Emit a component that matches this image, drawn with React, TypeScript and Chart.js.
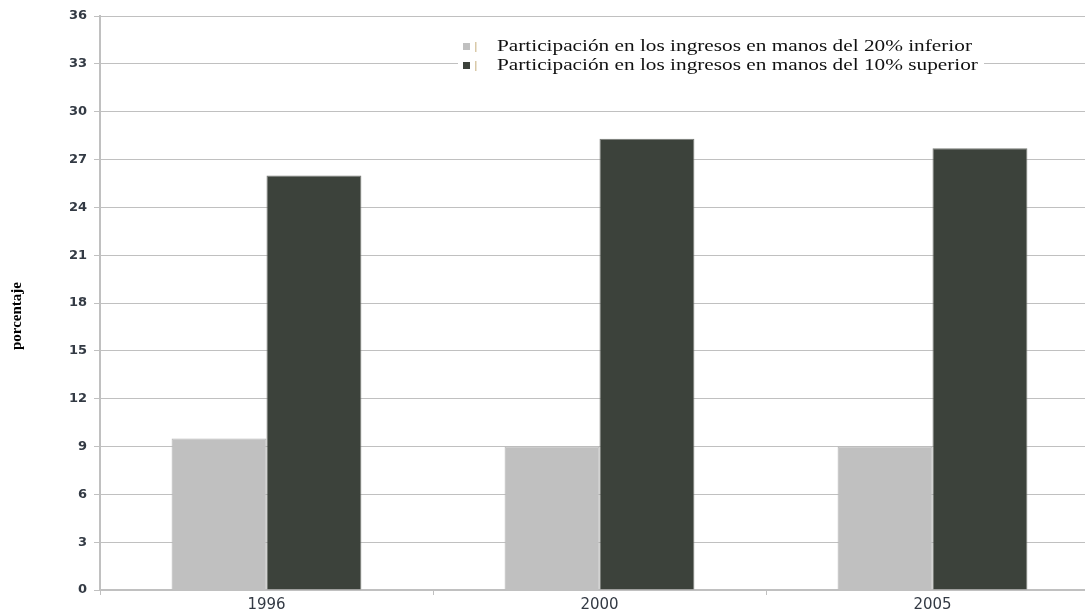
import React, { useEffect, useRef } from "react";
import { Chart, registerables } from "chart.js";

Chart.register(...registerables);

const categories = ["1996", "2000", "2005"];
const bottom20 = [9.5, 9.0, 9.0];
const top10 = [26.0, 28.3, 27.7];
const seriesLabels = [
  "Participación en los ingresos en manos del 20% inferior",
  "Participación en los ingresos en manos del 10% superior",
];
const yTitle = "porcentaje";
const colors = ["#c0c0c0", "#3c423b"];

const legendPlugin = {
  id: "insideLegend",
  afterDraw(chart: any) {
    const ctx = chart.ctx;
    ctx.save();
    ctx.fillStyle = "#ffffff";
    ctx.fillRect(458, 36, 526, 38);
    ctx.font = "16px 'Liberation Serif', 'Times New Roman', serif";
    ctx.textBaseline = "middle";
    const w0 = ctx.measureText(seriesLabels[0]).width;
    const sx = 475 / w0;
    seriesLabels.forEach((lab, i) => {
      const y = 47 + i * 19;
      ctx.fillStyle = colors[i];
      ctx.fillRect(463, y - 4, 7, 7);
      ctx.fillStyle = "#d9c9a8";
      ctx.fillRect(475, y - 5, 1.5, 10);
      ctx.fillStyle = "#111111";
      ctx.textAlign = "left";
      ctx.save();
      ctx.translate(497, y);
      ctx.scale(sx, 1);
      ctx.fillText(lab, 0, 0);
      ctx.restore();
    });
    // y-axis title
    ctx.save();
    ctx.translate(17, 316);
    ctx.rotate(-Math.PI / 2);
    ctx.font = "bold 15px 'Liberation Serif', 'Times New Roman', serif";
    ctx.fillStyle = "#000000";
    ctx.textAlign = "center";
    ctx.textBaseline = "middle";
    ctx.fillText(yTitle, 0, 0);
    ctx.restore();
    ctx.restore();
  },
};

export default function App() {
  const ref = useRef<HTMLCanvasElement>(null);
  useEffect(() => {
    document.body.style.margin = "0";
    const chart = new Chart(ref.current!, {
      type: "bar",
      data: {
        labels: categories,
        datasets: [
          {
            label: seriesLabels[0],
            data: bottom20,
            backgroundColor: colors[0],
            borderColor: "#b4b4b4",
            borderWidth: 1,
            categoryPercentage: 0.57,
            barPercentage: 1,
          },
          {
            label: seriesLabels[1],
            data: top10,
            backgroundColor: colors[1],
            borderColor: "#777a76",
            borderWidth: 1,
            categoryPercentage: 0.57,
            barPercentage: 1,
          },
        ],
      },
      options: {
        animation: false,
        responsive: false,
        maintainAspectRatio: false,
        layout: { padding: { top: 16, right: 0, left: 0, bottom: 0 } },
        plugins: { legend: { display: false }, tooltip: { enabled: false } },
        scales: {
          x: {
            offset: true,
            grid: {
              offset: true,
              drawOnChartArea: false,
              tickLength: 5,
              color: "#c0c0c0",
            },
            border: { color: "#c0c0c0", width: 2 },
            ticks: {
              color: "#333a44",
              padding: 1,
              font: { family: "'DejaVu Sans', sans-serif", size: 15 },
            },
            afterFit: (s: any) => {
              s.height = 21;
            },
          },
          y: {
            min: 0,
            max: 36,
            ticks: {
              stepSize: 3,
              color: "#333a44",
              padding: 7,
              font: { family: "'DejaVu Sans', sans-serif", size: 13, weight: "bold" },
            },
            grid: { color: "#c0c0c0", lineWidth: 1, tickLength: 6 },
            border: { color: "#c0c0c0", width: 2 },
            afterFit: (s: any) => {
              s.width = 100;
            },
          },
        },
      },
      plugins: [legendPlugin],
    });
    return () => chart.destroy();
  }, []);
  return (
    <div style={{ width: 1085, height: 611, overflow: "hidden" }}>
      <canvas ref={ref} width={1099} height={611} style={{ display: "block" }} />
    </div>
  );
}
